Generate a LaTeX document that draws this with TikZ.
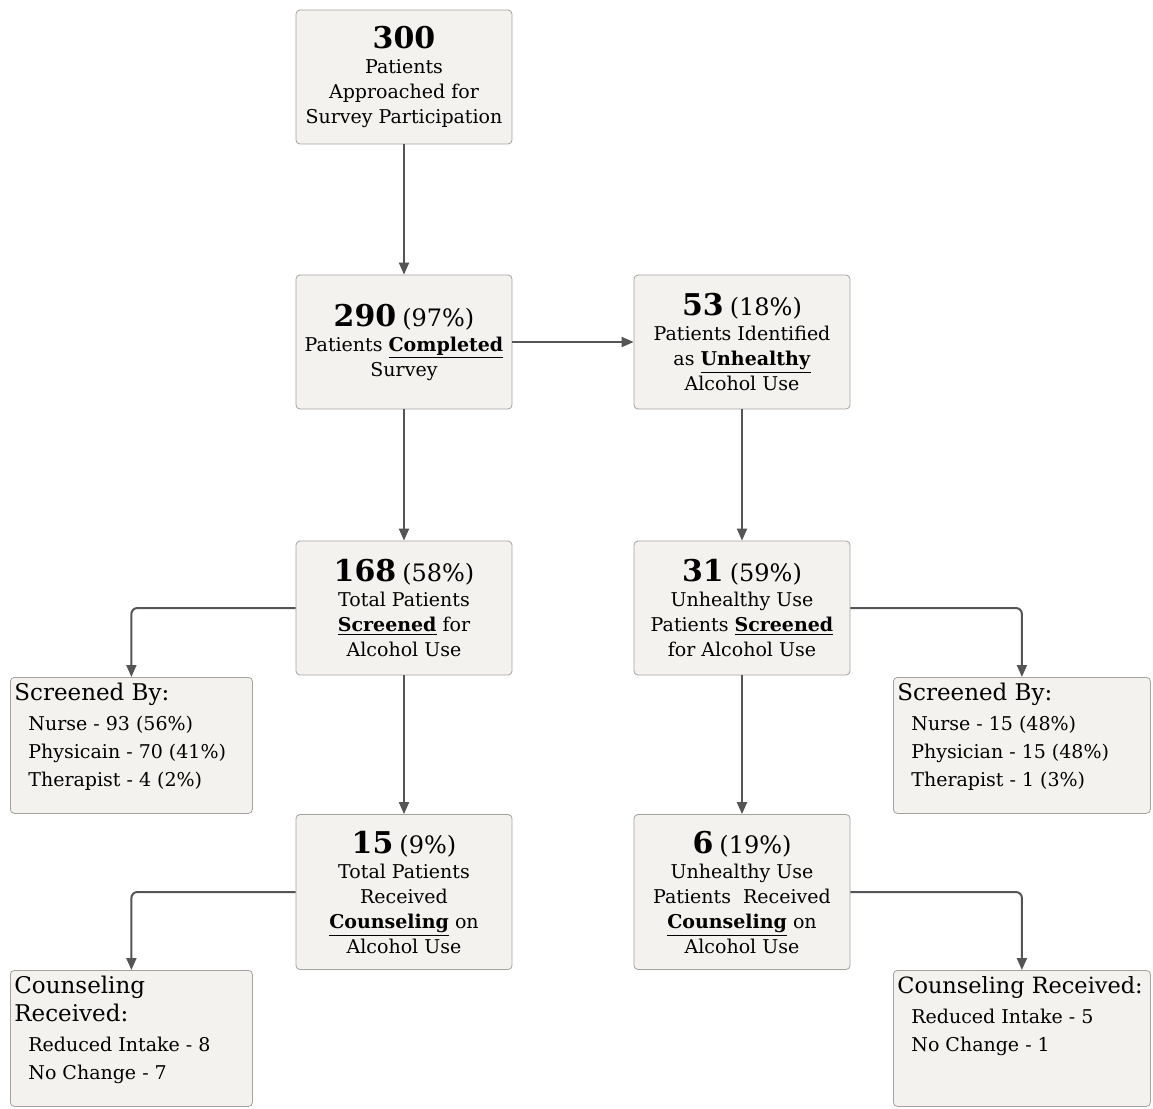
\documentclass[tikz,border=0pt]{standalone}
\usepackage{fontspec}
\setmainfont{DejaVu Serif}
\usetikzlibrary{arrows.meta, positioning}
\definecolor{boxfill}{HTML}{F4F2EF}
\definecolor{boxline}{HTML}{A5A19D}
\definecolor{linkgray}{HTML}{555555}
\newcommand\countline[2]{{\fontsize{15}{18}\selectfont\bfseries #1} {\fontsize{12}{16}\selectfont #2}}
\newcommand\keyword[1]{\underline{\textbf{#1}}}
\newcommand\tallytext[2]{\begin{minipage}[c][62pt][t]{#1}\raggedright #2\end{minipage}}

\begin{document}
\begin{tikzpicture}[
  x=0.5pt, y=-0.5pt,
  stage/.style={draw=boxline, fill=boxfill, rectangle, rounded corners=2pt,
                minimum width=108pt, minimum height=67pt,
                align=center, font=\fontsize{9.5}{12.5}\selectfont, inner sep=3pt},
  tall/.style={stage, minimum height=77.5pt},
  tally/.style={draw=boxline, fill=boxfill, rectangle, rounded corners=2pt,
                anchor=north west, inner xsep=2pt, inner ysep=3pt,
                font=\fontsize{9.5}{14}\selectfont},
  arr/.style={-{Triangle[length=6pt,width=5pt]}, line width=1pt, linkgray,
              rounded corners=3pt},
]
\useasboundingbox (0,0) rectangle (1153,1109);

%% Main column
\node[stage] (approached) at (404, 77)
  {{\fontsize{15}{18}\selectfont\bfseries 300}\\Patients\\Approached for\\Survey Participation};
\node[stage] (completed) at (404, 342)
  {\countline{290}{(97\%)}\\Patients \keyword{Completed}\\Survey};
\node[stage] (screened) at (404, 608)
  {\countline{168}{(58\%)}\\Total Patients\\\keyword{Screened} for\\Alcohol Use};
\node[tall] (counseled) at (404, 892)
  {\countline{15}{(9\%)}\\Total Patients\\Received\\\keyword{Counseling} on\\Alcohol Use};

%% Unhealthy-use column
\node[stage] (unhealthy) at (742, 342)
  {\countline{53}{(18\%)}\\Patients Identified\\as \keyword{Unhealthy}\\Alcohol Use};
\node[stage] (uscreened) at (742, 608)
  {\countline{31}{(59\%)}\\Unhealthy Use\\Patients \keyword{Screened}\\for Alcohol Use};
\node[tall] (ucounseled) at (742, 892)
  {\countline{6}{(19\%)}\\Unhealthy Use\\Patients\ \ Received\\\keyword{Counseling} on\\Alcohol Use};

%% Breakdown boxes
\node[tally] (byall) at (10, 677)
  {\tallytext{117pt}{{\fontsize{11.5}{14}\selectfont Screened By:}\\[1pt]
   \hspace*{7pt}Nurse - 93 (56\%)\\
   \hspace*{7pt}Physicain - 70 (41\%)\\
   \hspace*{7pt}Therapist - 4 (2\%)}};
\node[tally] (byunh) at (893, 677)
  {\tallytext{124.5pt}{{\fontsize{11.5}{14}\selectfont Screened By:}\\[1pt]
   \hspace*{7pt}Nurse - 15 (48\%)\\
   \hspace*{7pt}Physician - 15 (48\%)\\
   \hspace*{7pt}Therapist - 1 (3\%)}};
\node[tally] (recall) at (10, 970)
  {\tallytext{117pt}{{\fontsize{11.5}{14}\selectfont Counseling\\Received:}\\[1pt]
   \hspace*{7pt}Reduced Intake - 8\\
   \hspace*{7pt}No Change - 7}};
\node[tally] (recunh) at (893, 970)
  {\tallytext{124.5pt}{{\fontsize{11.2}{14}\selectfont Counseling Received:}\\[1pt]
   \hspace*{7pt}Reduced Intake - 5\\
   \hspace*{7pt}No Change - 1}};

%% Connectors
\draw[arr] (approached) -- (completed);
\draw[arr] (completed) -- (unhealthy);
\draw[arr] (completed) -- (screened);
\draw[arr] (screened) -- (counseled);
\draw[arr] (unhealthy) -- (uscreened);
\draw[arr] (uscreened) -- (ucounseled);
\draw[arr] (screened.west) -| (byall.north);
\draw[arr] (uscreened.east) -| (byunh.north);
\draw[arr] (counseled.west) -| (recall.north);
\draw[arr] (ucounseled.east) -| (recunh.north);
\end{tikzpicture}
\end{document}
